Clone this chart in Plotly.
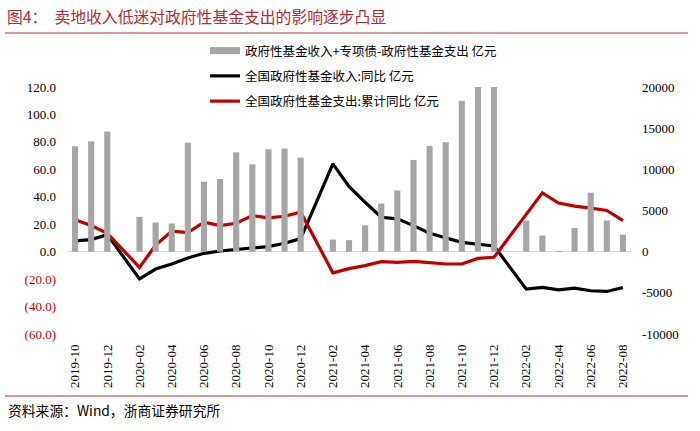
import plotly.graph_objects as go

months = ["2019-10", "2019-11", "2019-12",
          "2020-01", "2020-02", "2020-03", "2020-04", "2020-05", "2020-06",
          "2020-07", "2020-08", "2020-09", "2020-10", "2020-11", "2020-12",
          "2021-01", "2021-02", "2021-03", "2021-04", "2021-05", "2021-06",
          "2021-07", "2021-08", "2021-09", "2021-10", "2021-11", "2021-12",
          "2022-01", "2022-02", "2022-03", "2022-04", "2022-05", "2022-06",
          "2022-07", "2022-08"]

# 政府性基金收入+专项债-政府性基金支出 (亿元, right axis)
gap_bars = [12800, 13400, 14600,
            None, 4230, 3540, 3420, 13250, 8490,
            8820, 12070, 10610, 12440, 12520, 11420,
            None, 1460, 1400, 3200, 5850, 7440,
            11140, 12850, 13290, 18330, 20000, 20000,
            None, 3780, 1950, 80, 2890, 7160,
            3780, 2070]

# 全国政府性基金收入:同比 (left axis)
income_yoy = [7.8, 8.8, 12.4,
              None, -19.8, -12.7, -9.0, -4.6, -1.2,
              0.5, 1.7, 2.9, 3.7, 6.1, 9.5,
              None, 64.0, 47.5, 36.0, 25.1, 23.9,
              19.0, 13.4, 9.8, 6.8, 5.4, 4.2,
              None, -27.3, -26.1, -27.8, -26.6, -28.5,
              -29.0, -26.1]

# 全国政府性基金支出:累计同比 (left axis)
spend_yoy = [23.2, 19.0, 13.4,
             None, -11.5, 4.8, 14.9, 13.9, 21.5,
             19.0, 20.7, 26.3, 24.6, 25.8, 28.8,
             None, -15.4, -12.4, -10.2, -7.3, -7.8,
             -7.1, -8.0, -9.0, -9.0, -4.9, -4.1,
             None, 27.0, 42.9, 35.4, 33.2, 31.7,
             30.0, 22.7]

left_ticks = [120, 100, 80, 60, 40, 20, 0, -20, -40, -60]
right_ticks = [20000, 15000, 10000, 5000, 0, -5000, -10000]
x_ticks = months[::2]

names = ["政府性基金收入+专项债-政府性基金支出 亿元",
         "全国政府性基金收入:同比 亿元",
         "全国政府性基金支出:累计同比 亿元"]

W, H = 700, 431
L, R, T, B = 67, 69, 87, 97
PW, PH = W - L - R, H - T - B


def px(x):
    return (x - L) / PW


def py(y):
    return (H - B - y) / PH


def left_label(v):
    if v < 0:
        return '<span style="color:#C00000">(%.1f)</span>' % abs(v)
    return "%.1f" % v


fig = go.Figure()

fig.add_trace(go.Bar(
    x=months, y=gap_bars, yaxis="y2", name=names[0],
    marker=dict(color="#A6A6A6", line=dict(width=0)),
    width=0.38, showlegend=False, legendgroup="g0"))
# legend proxy (wide gray swatch as in the original)
fig.add_trace(go.Scatter(
    x=[None], y=[None], yaxis="y2", mode="lines", name=names[0],
    line=dict(color="#A6A6A6", width=7), legendgroup="g0"))

fig.add_trace(go.Scatter(
    x=months, y=income_yoy, name=names[1], mode="lines",
    line=dict(color="#000000", width=3.2), connectgaps=True,
    legendgroup="g1"))
fig.add_trace(go.Scatter(
    x=months, y=spend_yoy, name=names[2], mode="lines",
    line=dict(color="#C00000", width=3.2), connectgaps=True,
    legendgroup="g2"))

tick_font = dict(family="Liberation Serif", size=13, color="#000000")

fig.update_layout(
    width=W, height=H,
    margin=dict(l=L, r=R, t=T, b=B),
    paper_bgcolor="white", plot_bgcolor="white",
    showlegend=True,
    legend=dict(x=px(205), y=py(36), xanchor="left", yanchor="top",
                bgcolor="rgba(0,0,0,0)", borderwidth=0,
                font=dict(family="Noto Sans CJK SC", size=12.5, color="#000000"),
                traceorder="grouped", tracegroupgap=6,
                itemwidth=30),
    xaxis=dict(type="category", categoryorder="array", categoryarray=months,
               tickmode="array", tickvals=x_ticks, ticktext=x_ticks,
               tickangle=-90, tickfont=tick_font, showgrid=False,
               showline=False, zeroline=False, ticks="",
               ticklabelstandoff=7, range=[-0.5, len(months) - 0.5]),
    yaxis=dict(range=[-60, 120], tickmode="array", tickvals=left_ticks,
               ticktext=[left_label(v) for v in left_ticks],
               tickfont=tick_font, showgrid=False, showline=False,
               zeroline=True, zerolinecolor="#D9D9D9", zerolinewidth=1.2,
               ticks="", ticklabelstandoff=10),
    yaxis2=dict(range=[-10000, 20000], overlaying="y", side="right",
                tickmode="array", tickvals=right_ticks,
                ticktext=[str(v) for v in right_ticks],
                tickfont=tick_font, showgrid=False, showline=False,
                zeroline=False, ticks="", ticklabelstandoff=10),
    barmode="overlay",
)

# title, rules and source
fig.add_annotation(
    xref="paper", yref="paper", x=px(5), y=py(16), xanchor="left",
    yanchor="middle", showarrow=False,
    text="图4：\u00a0\u00a0卖地收入低迷对政府性基金支出的影响逐步凸显",
    font=dict(family="Noto Sans CJK SC", size=15.8, color="#B22A32"))
fig.add_annotation(
    xref="paper", yref="paper", x=px(6), y=py(410), xanchor="left",
    yanchor="middle", showarrow=False,
    text="资料来源：Wind，浙商证券研究所",
    font=dict(family="Noto Sans CJK SC", size=13.8, color="#000000"))
for yy in (33, 396):
    fig.add_shape(type="line", xref="paper", yref="paper",
                  x0=px(5), x1=px(688), y0=py(yy), y1=py(yy),
                  line=dict(color="#B5323A", width=1.2))

fig.write_html("out.html")
